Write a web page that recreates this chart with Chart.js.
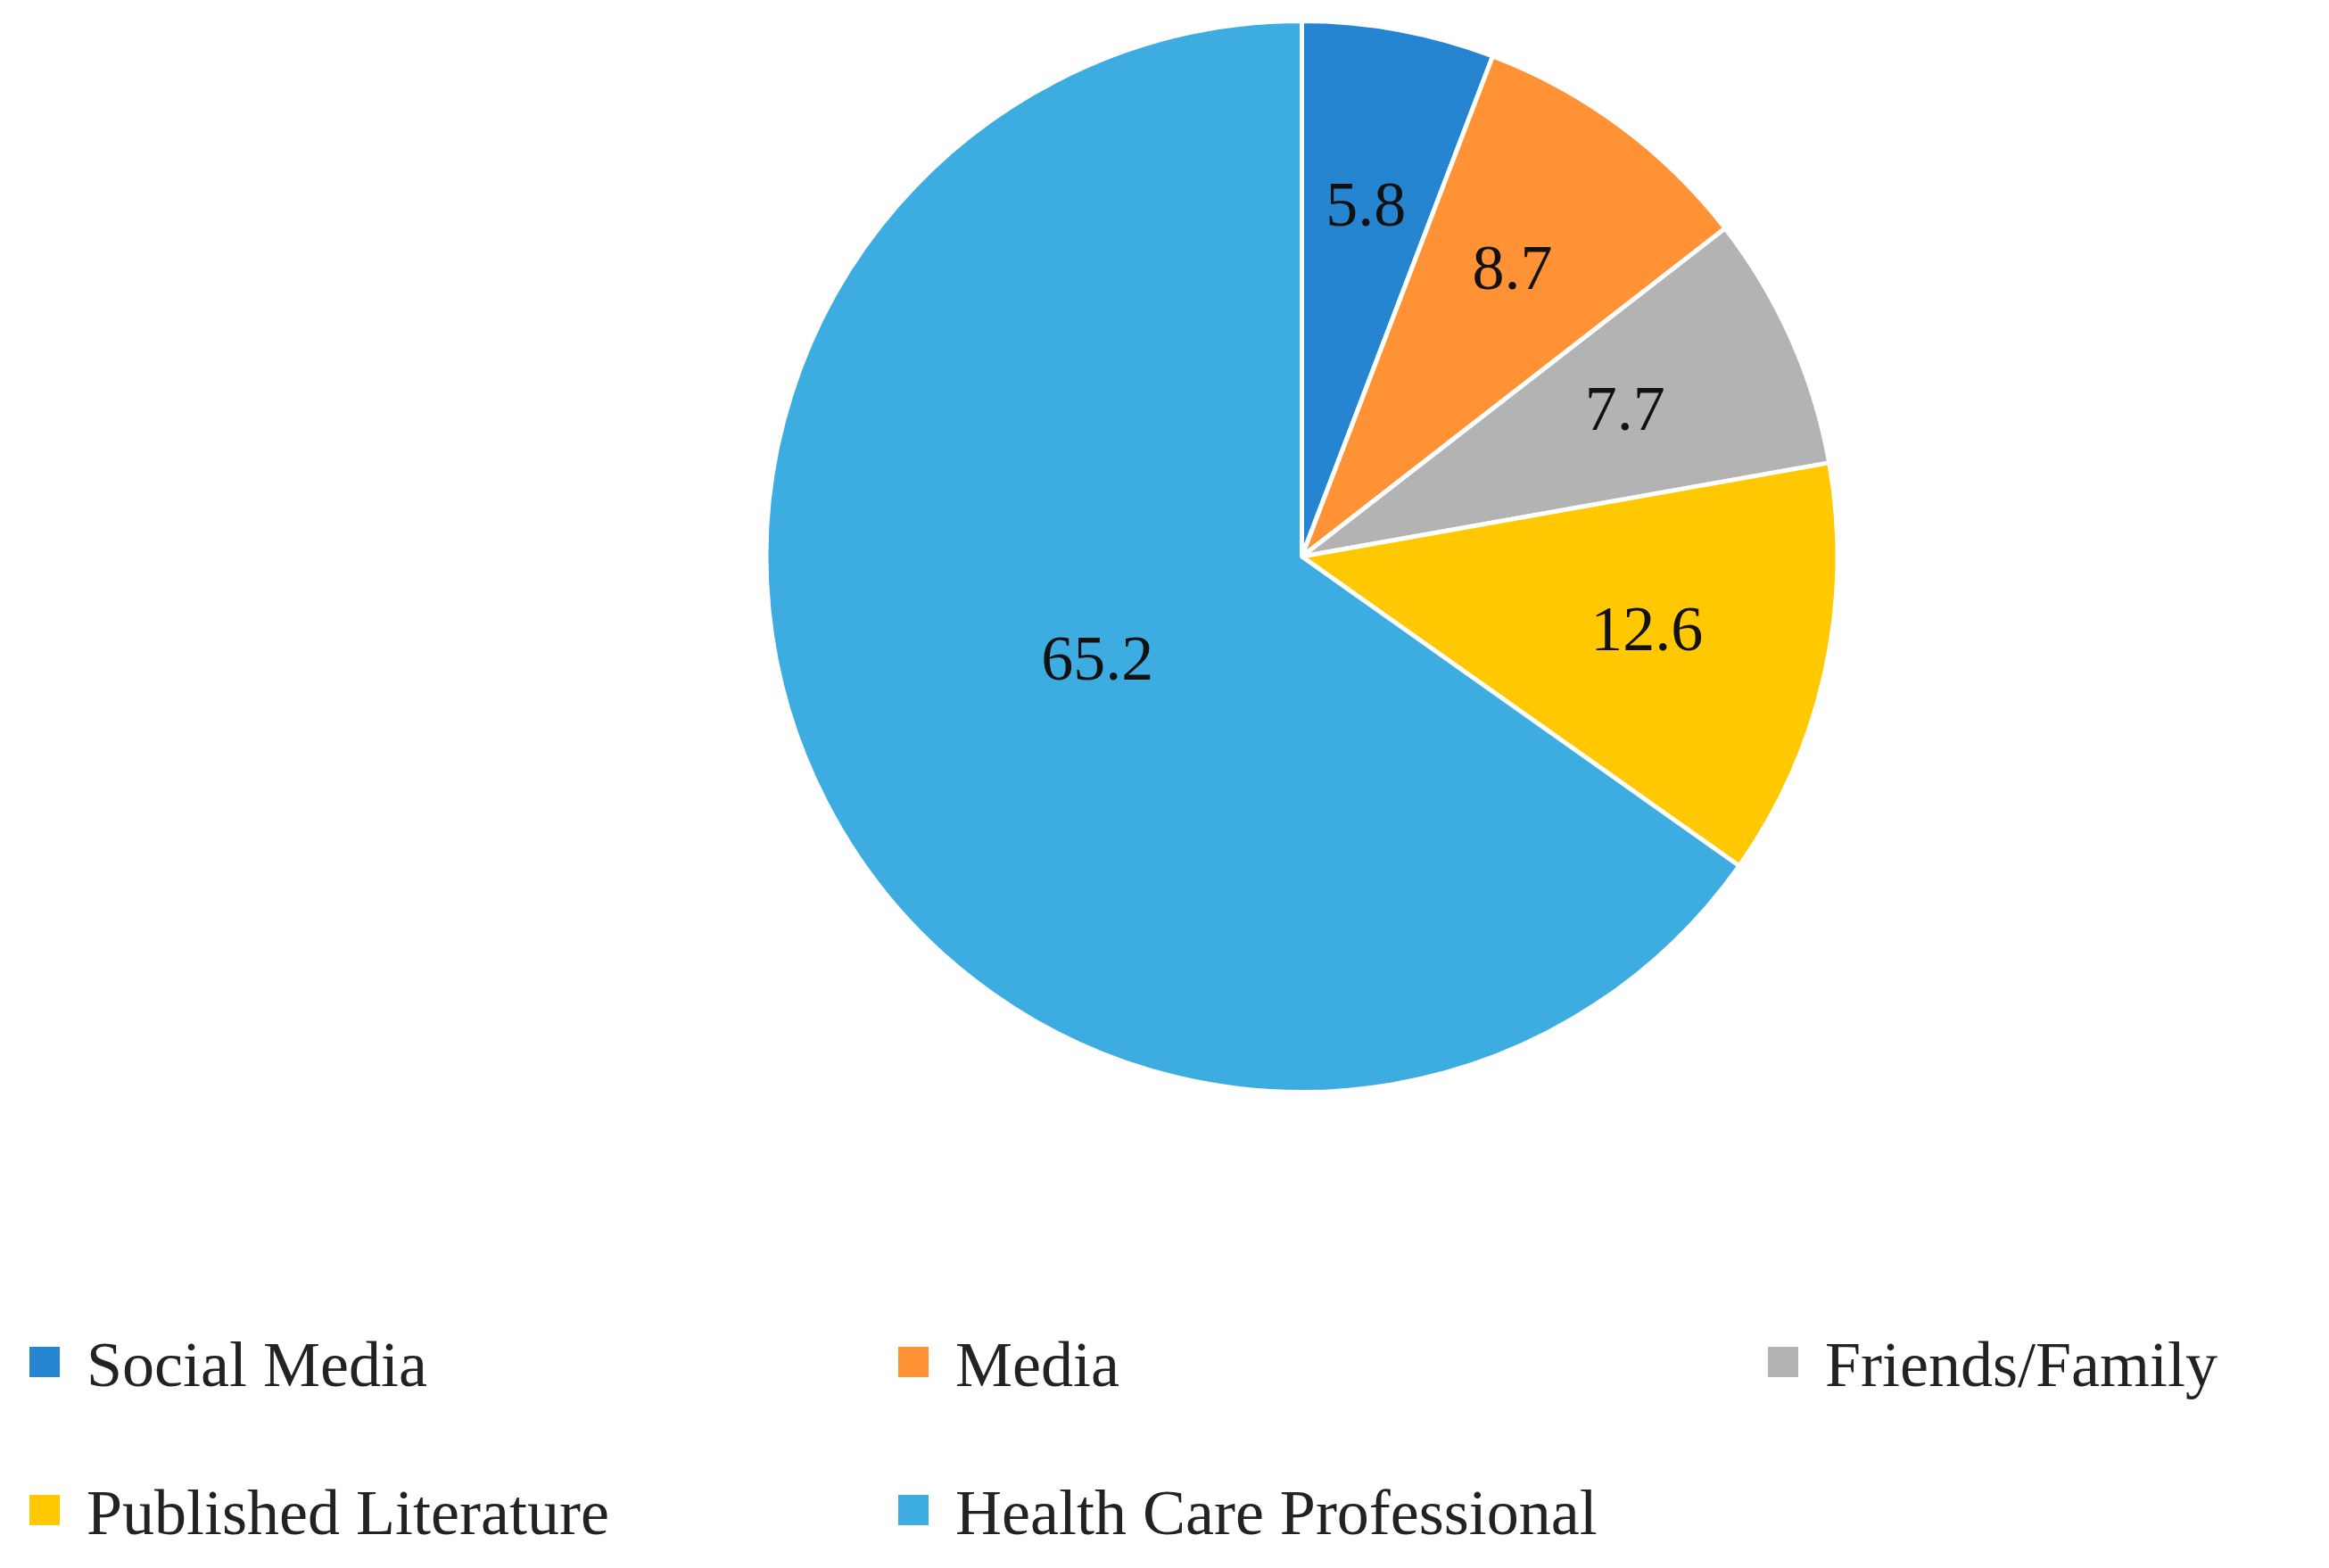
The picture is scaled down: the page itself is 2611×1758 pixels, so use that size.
<!DOCTYPE html>
<html>
<head>
  <script src="https://cdn.jsdelivr.net/npm/chart.js@4.4.0/dist/chart.umd.min.js"></script>
  <style>
    body { margin: 0; background: #fff; width: 2611px; height: 1758px; position: relative; overflow: hidden; }
    #wrap { position: absolute; left: 0; top: 0; width: 2611px; height: 1240px; }
    .item { position: absolute; font-family: "Liberation Serif", serif; font-size: 72px; color: #222; line-height: 1; white-space: nowrap; }
    .box { position: absolute; width: 34px; height: 34px; left: -64px; top: 16px; }
  </style>
</head>
<body>
  <div id="wrap"><canvas id="pie"></canvas></div>
  <div id="legend"></div>
  <script>
    const labels = ['Social Media', 'Media', 'Friends/Family', 'Published Literature', 'Health Care Professional'];
    const values = [5.8, 8.7, 7.7, 12.6, 65.2];
    const colors = ['#2585D1', '#FF9234', '#B3B3B3', '#FFC800', '#3DACE0'];

    const sliceLabels = {
      id: 'sliceLabels',
      afterDatasetsDraw(chart) {
        const ctx = chart.ctx;
        const meta = chart.getDatasetMeta(0);
        ctx.save();
        ctx.font = '72px "Liberation Serif", serif';
        ctx.fillStyle = '#111';
        ctx.textAlign = 'center';
        ctx.textBaseline = 'middle';
        meta.data.forEach((arc, i) => {
          const mid = (arc.startAngle + arc.endAngle) / 2;
          const f = values[i] > 50 ? 0.43 : 0.66;
          const r = arc.outerRadius * f;
          ctx.fillText(values[i].toFixed(1), arc.x + Math.cos(mid) * r, arc.y + Math.sin(mid) * r);
        });
        ctx.restore();
      }
    };

    new Chart(document.getElementById('pie'), {
      type: 'pie',
      data: {
        labels: labels,
        datasets: [{ data: values, backgroundColor: colors, borderColor: '#fff', borderWidth: 5 }]
      },
      options: {
        responsive: true,
        maintainAspectRatio: false,
        animation: false,
        layout: { padding: { left: 308, top: 21, bottom: 13 } },
        plugins: { legend: { display: false }, tooltip: { enabled: false } }
      },
      plugins: [sliceLabels]
    });

    const legend = document.getElementById('legend');
    const cols = [97, 1071, 2046];
    const rows = [1494, 1660];
    labels.forEach((name, i) => {
      const el = document.createElement('div');
      el.className = 'item';
      el.style.left = cols[i % 3] + 'px';
      el.style.top = rows[Math.floor(i / 3)] + 'px';
      el.innerHTML = '<span class="box" style="background:' + colors[i] + '"></span>' + name;
      legend.appendChild(el);
    });
  </script>
</body>
</html>
